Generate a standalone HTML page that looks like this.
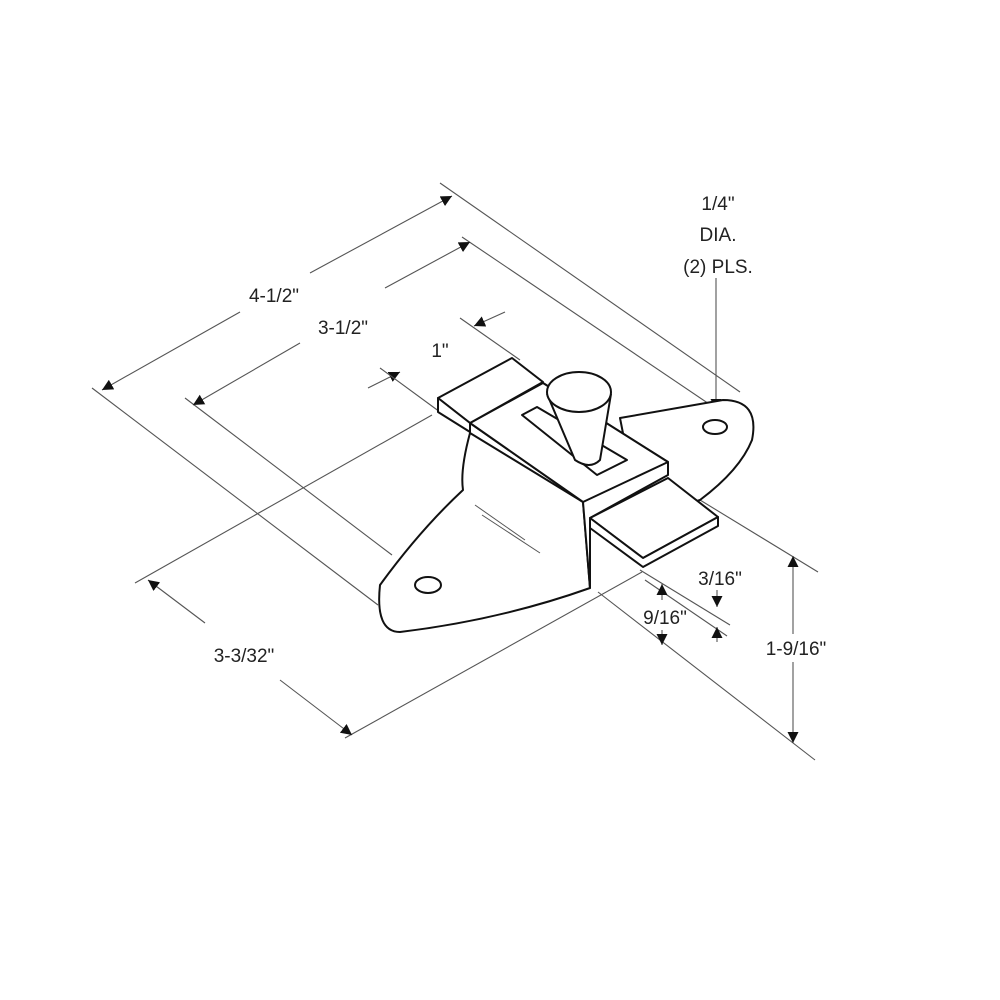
<!DOCTYPE html>
<html><head><style>body{margin:0;background:#fff}svg{display:block}</style></head><body>
<svg width="1000" height="1000" viewBox="0 0 1000 1000" xmlns="http://www.w3.org/2000/svg">
<defs><marker id="a" viewBox="0 0 10 10" refX="10" refY="5" markerWidth="11" markerHeight="11" markerUnits="userSpaceOnUse" orient="auto"><path d="M0,0 L10,5 L0,10 z" fill="#111"/></marker></defs>
<g stroke="#555" stroke-width="1.1" fill="none">
<line x1="440" y1="183" x2="740" y2="392"/>
<line x1="92" y1="388" x2="378" y2="605"/>
<line x1="240" y1="312" x2="102" y2="390" marker-end="url(#a)"/>
<line x1="310" y1="273" x2="452" y2="196" marker-end="url(#a)"/>
<line x1="462" y1="237" x2="718" y2="410"/>
<line x1="185" y1="398" x2="392" y2="555"/>
<line x1="300" y1="343" x2="193" y2="405" marker-end="url(#a)"/>
<line x1="385" y1="288" x2="470" y2="242" marker-end="url(#a)"/>
<line x1="368" y1="388" x2="400" y2="372" marker-end="url(#a)"/>
<line x1="505" y1="312" x2="474" y2="326" marker-end="url(#a)"/>
<line x1="380" y1="368" x2="440" y2="412"/>
<line x1="460" y1="318" x2="520" y2="360"/>
<line x1="135" y1="583" x2="432" y2="415"/>
<line x1="345" y1="738" x2="642" y2="572"/>
<line x1="205" y1="623" x2="148" y2="580" marker-end="url(#a)"/>
<line x1="280" y1="680" x2="352" y2="735" marker-end="url(#a)"/>
<line x1="700" y1="500" x2="818" y2="572"/>
<line x1="598" y1="592" x2="815" y2="760"/>
<line x1="793" y1="634" x2="793" y2="556" marker-end="url(#a)"/>
<line x1="793" y1="662" x2="793" y2="743" marker-end="url(#a)"/>
<line x1="640" y1="570" x2="730" y2="625"/>
<line x1="645" y1="580" x2="727" y2="636"/>
<line x1="717" y1="590" x2="717" y2="607" marker-end="url(#a)"/>
<line x1="717" y1="642" x2="717" y2="627" marker-end="url(#a)"/>
<line x1="662" y1="600" x2="662" y2="584" marker-end="url(#a)"/>
<line x1="662" y1="630" x2="662" y2="645" marker-end="url(#a)"/>
<line x1="716" y1="278" x2="716" y2="410" marker-end="url(#a)"/>
</g>
<g stroke="#111" stroke-width="2" fill="#fff" stroke-linejoin="round">
<path d="M620,418 L723,400 Q760,400 752,440 Q740,470 700,500 L640,520 Z"/>
<ellipse cx="715" cy="427" rx="12" ry="7"/>
<path d="M470,433 Q460,470 463,490 Q420,530 380,585 Q375,632 400,632 Q500,620 590,588 L583,502 Z"/>
<ellipse cx="428" cy="585" rx="13" ry="8"/>
<path d="M470,423 L543,383 L668,462 L668,475 L590,518 L590,588 L583,502 Z"/>
<path d="M470,423 L583,502 L668,462 L543,383 Z"/>
<path d="M522,415 L537,407 L627,460 L597,475 Z"/>
<path d="M547,394 L575,460 Q590,470 600,460 L611,394"/>
<ellipse cx="579" cy="392" rx="32" ry="20"/>
<path d="M438,398 L512,358 L543,382 L470,423 Z"/>
<path d="M438,398 L438,412 L470,432 L470,423 Z"/>
<path d="M590,518 L668,478 L718,517 L643,558 Z"/>
<path d="M590,518 L590,528 L643,567 L718,526 L718,517 L643,558 Z"/>
</g>
<g stroke="#555" stroke-width="1" fill="none">
<line x1="475" y1="505" x2="525" y2="540"/><line x1="482" y1="515" x2="540" y2="553"/>
</g>
<g font-family="Liberation Sans, sans-serif" font-size="19" fill="#222" text-anchor="middle">
<text x="274" y="302">4-1/2"</text>
<text x="343" y="334">3-1/2"</text>
<text x="440" y="357">1"</text>
<text x="718" y="210">1/4"</text>
<text x="718" y="241">DIA.</text>
<text x="718" y="273">(2) PLS.</text>
<text x="244" y="662">3-3/32"</text>
<text x="720" y="585">3/16"</text>
<text x="665" y="624">9/16"</text>
<text x="796" y="655">1-9/16"</text>
</g>
</svg>
</body></html>
